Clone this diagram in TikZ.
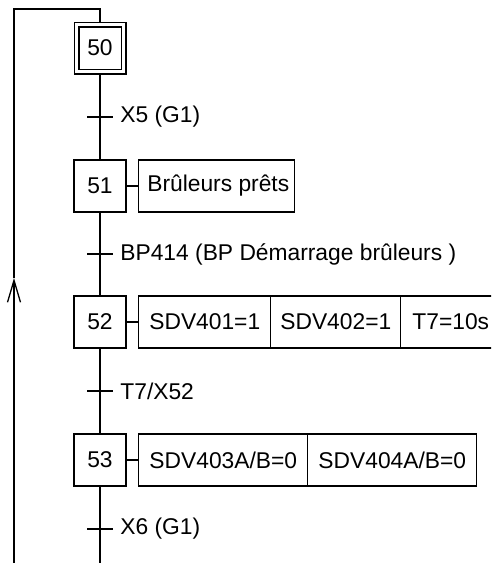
\documentclass[tikz,border=0pt]{standalone}
\usepackage{fontspec}
\setmainfont{Liberation Sans}
\usetikzlibrary{positioning,arrows.meta}
\tikzset{
  ln/.style={line width=1.3pt},
  stepbox/.style={draw,ln,minimum size=52pt,inner sep=0pt,font=\fontsize{22.8}{26}\selectfont},
  initstep/.style={stepbox,double,double distance=3.4pt,minimum size=47pt,outer sep=3pt},
  act/.style={draw,ln,minimum height=52pt,inner sep=0pt,font=\fontsize{22.8}{26}\selectfont},
  trans/.style={fill=black,minimum width=26pt,minimum height=2.8pt,inner sep=0pt},
  cond/.style={font=\fontsize{22.8}{26}\selectfont,inner sep=0pt},
  arr/.style={ln,-{Straight Barb[length=22pt,width=13pt]}}
}

\begin{document}
\begin{tikzpicture}[x=1pt,y=1pt,node distance=8pt and 11.5pt]
  \useasboundingbox (0,0) rectangle (491,-563);
  \clip (0,0) rectangle (491,-563);
  % steps
  \node[initstep] (s50) at (100,-48) {50};
  \node[stepbox] (s51) at (100,-186) {51};
  \node[stepbox] (s52) at (100,-322) {52};
  \node[stepbox] (s53) at (100,-460) {53};
  % transitions
  \node[trans] (t1) at (100,-117) {};
  \node[trans] (t2) at (100,-254) {};
  \node[trans] (t3) at (100,-391) {};
  \node[trans] (t4) at (100,-529) {};
  \node[cond,right=7pt of t1,anchor=west] {X5 (G1)};
  \node[cond,right=7pt of t2,anchor=west] {BP414 (BP Démarrage brûleurs )};
  \node[cond,right=7pt of t3,anchor=west] {T7/X52};
  \node[cond,right=7pt of t4,anchor=west] {X6 (G1)};
  % actions
  \node[act,right=of s51,minimum width=156pt] (a51) {\hspace{3pt}Brûleurs prêts};
  \node[act,right=of s52,minimum width=132pt] (a52a) {SDV401=1};
  \node[act,right=-1.3pt of a52a,minimum width=130pt] (a52b) {SDV402=1};
  \node[act,right=-1.3pt of a52b,minimum width=100pt,anchor=west] (a52c) {T7=10s\hspace{12pt}};
  \node[act,right=of s53,minimum width=169pt] (a53a) {SDV403A/B=0};
  \node[act,right=-1.3pt of a53a,minimum width=169pt] (a53b) {SDV404A/B=0};
  % links
  \coordinate (rtop) at (100,-9);
  \coordinate (ltop) at (14,-9);
  \coordinate (lmid) at (14,-278);
  \coordinate (lbot) at (14,-563);
  \coordinate (rbot) at (100,-563);
  \draw[ln] (s50) -- (s51);
  \draw[ln] (s51) -- (s52);
  \draw[ln] (s52) -- (s53);
  \draw[ln] (s53) -- (rbot);
  \draw[ln] (s51) -- (a51);
  \draw[ln] (s52) -- (a52a);
  \draw[ln] (s53) -- (a53a);
  \draw[arr] (lbot) -- (lmid);
  \draw[ln] (lmid) -- (ltop) -- (rtop) -- (s50);
\end{tikzpicture}
\end{document}
